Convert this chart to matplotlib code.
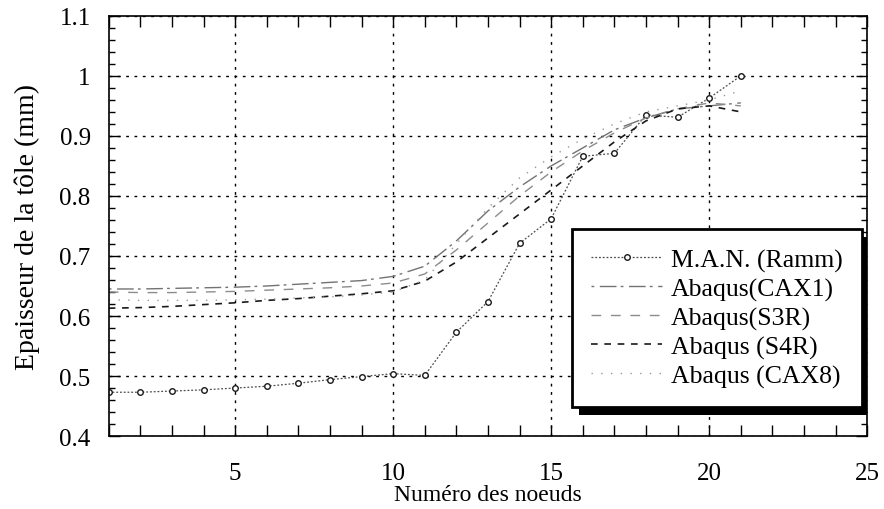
import matplotlib
matplotlib.use("Agg")
import matplotlib.pyplot as plt
from matplotlib.patches import Rectangle
from matplotlib.ticker import MultipleLocator

plt.rcParams["font.family"] = ["Liberation Serif", "DejaVu Serif"]

# node numbers and thickness values (mm)
nodes = list(range(1, 22))
man_ramm = [0.473, 0.473, 0.475, 0.477, 0.480, 0.483, 0.488, 0.494, 0.499, 0.504, 0.501,
            0.573, 0.624, 0.721, 0.762, 0.866, 0.871, 0.935, 0.931, 0.963, 1.000]
cax1 = [0.645, 0.645, 0.646, 0.647, 0.648, 0.650, 0.653, 0.656, 0.659, 0.666, 0.683,
        0.725, 0.775, 0.815, 0.850, 0.880, 0.910, 0.930, 0.945, 0.950, 0.955]
s3r = [0.640, 0.639, 0.639, 0.640, 0.641, 0.643, 0.645, 0.647, 0.650, 0.655, 0.670,
       0.710, 0.755, 0.800, 0.840, 0.875, 0.905, 0.930, 0.945, 0.955, 0.950]
s4r = [0.613, 0.614, 0.616, 0.619, 0.622, 0.626, 0.629, 0.633, 0.637, 0.642, 0.658,
       0.690, 0.730, 0.770, 0.810, 0.850, 0.890, 0.925, 0.945, 0.950, 0.940]
cax8 = [0.627, 0.626, 0.626, 0.626, 0.627, 0.628, 0.630, 0.632, 0.635, 0.640, 0.660,
        0.720, 0.780, 0.830, 0.865, 0.895, 0.920, 0.940, 0.950, 0.960, 0.975]

labels = ["M.A.N. (Ramm)", "Abaqus(CAX1)", "Abaqus(S3R)", "Abaqus (S4R)", "Abaqus (CAX8)"]

fig = plt.figure(figsize=(8.84, 5.10), dpi=100)
ax = fig.add_axes([0.123, 0.143, 0.858, 0.824])

ax.plot(nodes, man_ramm, color="0.3", lw=0.9, linestyle=(0, (1.5, 1.5)),
        marker="o", ms=4, mfc="white", mec="0.1", mew=1.0, label=labels[0])
ax.plot(nodes, cax1, color="0.45", lw=1.0, dashes=[2, 4, 12, 3], label=labels[1])
ax.plot(nodes, s3r, color="0.55", lw=1.0, dashes=[7, 7], label=labels[2])
ax.plot(nodes, s4r, color="0.1", lw=1.2, dashes=[4, 4], label=labels[3])
ax.plot(nodes, cax8, color="0.6", lw=1.0, dashes=[1, 6], label=labels[4])

ax.set_xlim(1, 25)
ax.set_ylim(0.4, 1.1)
ax.xaxis.set_major_locator(MultipleLocator(5))
ax.xaxis.set_minor_locator(MultipleLocator(1))
ax.yaxis.set_major_locator(MultipleLocator(0.1))
ax.yaxis.set_minor_locator(MultipleLocator(0.02))
ax.yaxis.set_major_formatter(plt.FuncFormatter(lambda v, p: f"{v:g}"))

ax.tick_params(which="both", direction="in", top=True, right=True, width=1.0)
ax.tick_params(axis="x", which="major", length=8, pad=19, labelsize=18)
ax.tick_params(axis="x", which="minor", length=8)
ax.tick_params(axis="y", which="major", length=8, pad=13, labelsize=18)
ax.tick_params(axis="y", which="minor", length=4)
for s in ax.spines.values():
    s.set_linewidth(1.2)

ax.grid(True, which="major", color="black", linestyle=(0, (2, 4)), linewidth=1.0)
ax.set_axisbelow(True)

ax.set_xlabel("Numéro des noeuds", fontsize=17, labelpad=0)
ax.set_ylabel("Epaisseur de la tôle (mm)", fontsize=20, labelpad=14)

leg = ax.legend(loc="upper left", bbox_to_anchor=(0.611, 0.493), borderaxespad=0,
                fontsize=18.5, frameon=True, fancybox=False, framealpha=1,
                handlelength=2.75, handletextpad=0.35, labelspacing=0.22,
                borderpad=0.75)
leg.get_frame().set_edgecolor("black")
leg.get_frame().set_facecolor("white")
leg.get_frame().set_linewidth(2.0)
leg.set_zorder(5)

# black drop shadow on the right and bottom of the legend box
fig.canvas.draw()
bb = leg.get_window_extent().transformed(ax.transAxes.inverted())
shadow = Rectangle((bb.x0 + 0.009, bb.y0 - 0.019), bb.width, bb.height,
                   transform=ax.transAxes, facecolor="black", edgecolor="none", zorder=4)
ax.add_patch(shadow)

fig.savefig("out.png", dpi=100)
